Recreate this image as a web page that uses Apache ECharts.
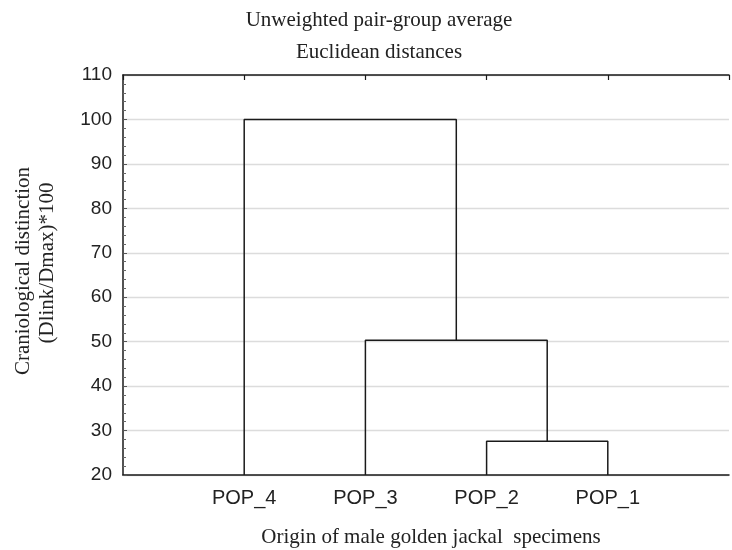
<!DOCTYPE html>
<html>
<head>
<meta charset="utf-8">
<script src="https://cdn.jsdelivr.net/npm/echarts@6/dist/echarts.min.js"></script>
<style>
html,body{margin:0;padding:0;background:#fff;}
#chart{width:732px;height:550px;}
</style>
</head>
<body>
<div id="chart"></div>
<script>
// Leaves in the order they appear along the x axis
const leaves = ['POP_4', 'POP_3', 'POP_2', 'POP_1'];
// Agglomeration steps: which two clusters join, and the linkage distance
const mergeLeftNames = ['POP_2', 'POP_3', 'POP_4'];
const mergeRightNames = ['POP_1', 'C1', 'C2'];
const mergeHeights = [27.6, 50.3, 100];
const mergeNames = ['C1', 'C2', 'C3'];
// Axis ticks
const yTicks = [20, 30, 40, 50, 60, 70, 80, 90, 100, 110];

const titleLines = ['Unweighted pair-group average', 'Euclidean distances'];
const xTitle = 'Origin of male golden jackal  specimens';
const yTitleLines = ['Craniological distinction', '(Dlink/Dmax)*100'];

const baseY = yTicks[0];
const nodes = {};
leaves.forEach((n, i) => { nodes[n] = { x: i + 1, h: baseY }; });
const series = [];
mergeNames.forEach((m, i) => {
  const a = nodes[mergeLeftNames[i]], b = nodes[mergeRightNames[i]], h = mergeHeights[i];
  nodes[m] = { x: (a.x + b.x) / 2, h: h };
  series.push({
    type: 'line',
    data: [[a.x, a.h], [a.x, h], [b.x, h], [b.x, b.h]],
    symbol: 'none',
    lineStyle: { color: '#1a1a1a', width: 1.5 },
    silent: true,
    animation: false,
    clip: true
  });
});

const chart = echarts.init(document.getElementById('chart'), null, { renderer: 'canvas' });
const serif = '"Liberation Serif", "Times New Roman", serif';
const sans = '"Liberation Sans", Arial, sans-serif';
chart.setOption({
  backgroundColor: '#ffffff',
  animation: false,
  grid: { left: 123, top: 75, width: 622, height: 400, containLabel: false },
  xAxis: [
    {
      type: 'value', position: 'bottom', min: 0, max: leaves.length + 1, interval: 1,
      axisLine: { show: true, lineStyle: { color: '#1a1a1a', width: 1.5 } },
      axisTick: { show: false },
      splitLine: { show: false },
      axisLabel: {
        margin: 13, fontSize: 20, fontFamily: sans, color: '#222',
        formatter: v => (v >= 1 && v <= leaves.length) ? leaves[v - 1] : ''
      }
    },
    {
      type: 'value', position: 'top', min: 0, max: leaves.length + 1, interval: 1,
      axisLine: { show: true, lineStyle: { color: '#1a1a1a', width: 1.5 } },
      axisTick: { show: true, inside: true, length: 5, lineStyle: { color: '#1a1a1a', width: 1.2 } },
      axisLabel: { show: false },
      splitLine: { show: false }
    }
  ],
  yAxis: {
    type: 'value', min: yTicks[0], max: yTicks[yTicks.length - 1], interval: 10,
    axisLine: { show: true, lineStyle: { color: '#1a1a1a', width: 1.5 } },
    axisTick: { show: true, inside: true, length: 4, lineStyle: { color: '#555', width: 1 } },
    minorTick: { show: true, splitNumber: 5, length: 3, lineStyle: { color: '#666', width: 1 } },
    splitLine: { show: true, lineStyle: { color: '#dcdcdc', width: 1.3 } },
    axisLabel: { margin: 11, fontSize: 19, fontFamily: sans, color: '#222' }
  },
  series: series,
  graphic: [
    { type: 'text', x: 379, y: 20, style: { text: titleLines[0], font: '21px ' + serif, fill: '#222', align: 'center', verticalAlign: 'middle' } },
    { type: 'text', x: 379, y: 52, style: { text: titleLines[1], font: '21px ' + serif, fill: '#222', align: 'center', verticalAlign: 'middle' } },
    { type: 'text', x: 431, y: 537, style: { text: xTitle, font: '21px ' + serif, fill: '#222', align: 'center', verticalAlign: 'middle' } },
    { type: 'text', x: 23, y: 271, rotation: Math.PI / 2, style: { text: yTitleLines[0], font: '21px ' + serif, fill: '#222', align: 'center', verticalAlign: 'middle' } },
    { type: 'text', x: 47, y: 263, rotation: Math.PI / 2, style: { text: yTitleLines[1], font: '21px ' + serif, fill: '#222', align: 'center', verticalAlign: 'middle' } }
  ]
});
</script>
</body>
</html>
